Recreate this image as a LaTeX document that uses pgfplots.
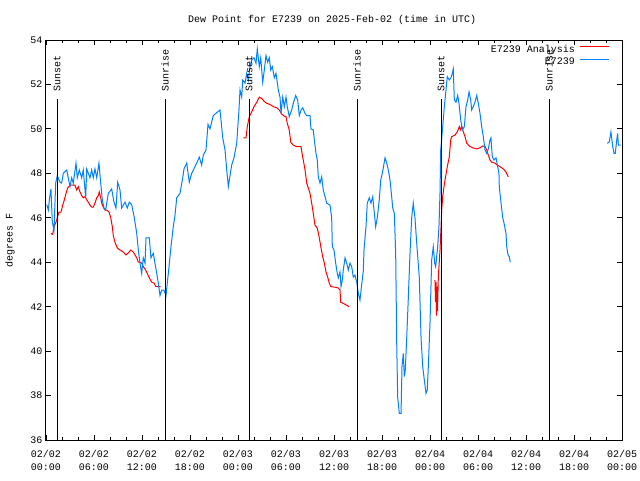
\documentclass[border=0pt]{standalone}
\usepackage{fontspec}
\setmainfont{Liberation Mono}
\usepackage{pgfplots}
\pgfplotsset{compat=1.18}

\definecolor{anared}{RGB}{255,0,0}
\definecolor{obsblue}{RGB}{0,128,255}

\begin{document}
\begin{tikzpicture}
\begin{axis}[
    name=dew,
    scale only axis, width=576pt, height=400pt,
    xmin=0, xmax=72, ymin=36, ymax=54,
    xtick={0,6,...,72},
    xticklabels={02/02\\00:00,02/02\\06:00,02/02\\12:00,02/02\\18:00,
                 02/03\\00:00,02/03\\06:00,02/03\\12:00,02/03\\18:00,
                 02/04\\00:00,02/04\\06:00,02/04\\12:00,02/04\\18:00,
                 02/05\\00:00},
    xticklabel style={align=center, font=\fontsize{10}{13}\selectfont, yshift=-7pt},
    minor x tick num=2,
    ytick={36,38,...,54},
    tick align=inside,
    major tick length=5pt, minor tick length=3pt,
    tick style={black, line width=0.8pt},
    axis line style={line width=1pt},
    /pgf/number format/assume math mode=true,
    ylabel={degrees F},
    ylabel style={at={(axis description cs:-0.0625,0.5)}, anchor=center},
    title={Dew Point for E7239 on 2025-Feb-02 (time in UTC)},
    title style={at={(axis description cs:0.497,1)}, anchor=center, yshift=14pt},
    unbounded coords=jump,
    legend style={at={(axis description cs:1,1)}, anchor=north east,
        xshift=-9pt, yshift=-2pt, draw=none, fill=none,
        nodes={inner sep=1pt}, row sep=2pt, column sep=4pt},
    legend cell align=right,
    legend plot pos=right,
    legend image code/.code={\draw[#1] (0pt,3pt) -- (29pt,3pt);},
]
% E7239 Analysis
\addplot[color=anared, line width=1pt] coordinates {
(0.62,45.3) (0.84,45.25) (1.0,45.6) (1.25,45.8) (1.41,46.0) (1.62,46.26) (1.88,46.26)
(2.09,46.57) (2.29,46.8) (2.5,47.1) (2.71,47.34) (3.0,47.47) (3.29,47.47) (3.62,47.47)
(3.84,47.25) (4.04,47.4) (4.25,47.16) (4.46,47.0) (4.66,46.9) (4.88,46.95) (5.09,46.8)
(5.29,46.7) (5.5,46.57) (5.71,46.48) (5.91,46.48) (6.12,46.66) (6.34,46.9) (6.54,47.0)
(6.66,47.16) (6.84,46.9) (6.96,46.66) (7.16,46.48) (7.38,46.35) (7.59,46.35) (7.88,46.26)
(8.09,46.0) (8.29,45.6) (8.41,45.2) (8.62,44.9) (8.91,44.64) (9.25,44.55) (9.66,44.46)
(10.0,44.33) (10.29,44.42) (10.59,44.55) (10.91,44.46) (11.12,44.33) (11.34,44.2)
(11.54,44.0) (11.75,44.0) (11.96,43.96) (12.16,43.8) (12.46,43.65) (12.66,43.5)
(12.91,43.3) (13.21,43.1) (13.5,43.06) (13.75,42.9) (14.04,42.9) (14.34,42.9)
(20,nan)
(24.66,49.6) (25.0,49.6) (25.16,50.1) (25.41,50.55) (25.71,50.76) (26.0,51.0) (26.34,51.2)
(26.66,51.43) (26.96,51.37) (27.25,51.25) (27.59,51.15) (28.0,51.1) (28.41,51.0)
(28.84,50.95) (29.16,50.85) (29.46,50.67) (29.75,50.58) (30.0,50.55) (30.16,50.25)
(30.41,49.95) (30.59,49.4) (30.91,49.27) (31.34,49.2) (31.88,49.2) (32.04,48.82)
(32.16,48.6) (32.38,48.15) (32.59,47.56) (32.79,47.34) (33.0,47.1) (33.21,46.66)
(33.41,46.2) (33.62,45.67) (33.91,45.54) (34.16,45.1) (34.38,44.64) (34.59,44.25)
(34.79,43.96) (35.0,43.56) (35.21,43.33) (35.41,43.06) (35.62,42.9) (36.12,42.88)
(36.54,42.84) (36.75,42.75) (36.84,42.2) (37.16,42.15) (37.59,42.06) (37.88,42.0)
(43,nan)
(48.62,43.2) (48.69,42.2) (48.75,43.1) (48.81,41.6) (48.88,42.9) (48.94,41.8) (49.04,43.33)
(49.25,44.55) (49.38,45.6) (49.46,46.35) (49.59,46.95) (49.75,47.4) (49.88,47.7)
(50.16,48.3) (50.41,48.73) (50.59,49.5) (50.71,49.65) (51.12,49.72) (51.41,49.87)
(51.66,50.1) (51.84,49.95) (51.96,50.13) (52.16,49.87) (52.38,49.65) (52.59,49.36)
(52.91,49.23) (53.34,49.15) (53.84,49.1) (54.25,49.15) (54.59,49.23) (54.88,49.2)
(55.09,49.05) (55.29,48.82) (55.5,48.6) (55.71,48.5) (56.12,48.46) (56.41,48.37)
(56.75,48.3) (57.16,48.2) (57.5,48.06) (57.66,47.93) (57.79,47.84)
};
\addlegendentry{E7239 Analysis}
% E7239 observations
\addplot[color=obsblue, line width=1pt] coordinates {
(0.1,46.6) (0.29,46.35) (0.45,46.9) (0.62,47.3) (0.79,45.8) (1.0,45.45) (1.21,47.56)
(1.41,47.9) (1.75,47.6) (1.96,47.56) (2.16,48.0) (2.59,48.15) (3.0,47.4) (3.21,47.8)
(3.41,47.56) (3.75,48.46) (3.91,47.8) (4.16,48.15) (4.46,47.8) (4.66,48.15) (4.96,46.9)
(5.09,48.2) (5.5,47.8) (5.71,48.15) (5.91,47.8) (6.12,48.2) (6.34,47.8) (6.62,48.46)
(6.84,47.56) (7.04,46.8) (7.25,46.44) (7.46,46.35) (7.79,47.1) (8.21,47.3) (8.5,46.7)
(8.75,46.44) (8.96,47.6) (9.25,47.25) (9.46,46.44) (9.88,46.7) (10.16,46.44)
(10.41,46.7) (10.71,46.6) (11.04,46.0) (11.34,45.3) (11.54,44.55) (11.75,43.96)
(11.96,43.5) (12.16,44.2) (12.38,43.96) (12.5,45.1) (12.91,45.1) (13.12,44.2)
(13.41,44.4) (13.62,43.96) (13.84,43.5) (14.04,43.06) (14.25,42.5) (14.46,42.75)
(14.75,42.75) (15.0,42.5) (15.16,43.06) (15.38,43.8) (15.62,44.7) (15.91,45.6)
(16.12,46.1) (16.34,46.9) (16.75,47.1) (17.09,47.8) (17.25,48.2) (17.59,48.46)
(17.91,47.6) (18.21,48.0) (18.62,48.3) (18.84,48.46) (19.16,48.73) (19.46,48.37)
(19.66,48.82) (20.0,49.05) (20.25,50.2) (20.5,50.0) (20.91,50.6) (21.75,50.85)
(22.09,49.6) (22.38,49.05) (22.59,48.15) (22.79,47.4) (23.0,47.9) (23.21,48.37)
(23.5,48.7) (23.84,49.36) (24.12,50.85) (24.25,51.75) (24.46,51.43) (24.59,52.2)
(24.88,52.06) (25.09,52.5) (25.29,52.2) (25.5,52.8) (25.71,53.1) (26.0,53.2)
(26.25,52.95) (26.41,53.6) (26.66,52.8) (26.84,53.2) (27.09,52.1) (27.29,52.65)
(27.5,53.3) (27.71,53.0) (27.91,53.2) (28.09,52.65) (28.29,52.8) (28.54,52.3)
(28.75,52.5) (29.04,51.75) (29.25,51.43) (29.38,50.7) (29.59,51.43) (29.79,51.0)
(30.0,51.43) (30.16,51.0) (30.41,50.55) (30.71,50.85) (30.91,51.15) (31.21,51.5)
(31.46,51.3) (31.66,50.6) (31.88,50.85) (32.09,50.95) (32.38,50.7) (32.59,50.6)
(33.0,50.6) (33.12,50.0) (33.41,49.95) (33.54,49.5) (33.75,48.9) (33.91,48.6)
(34.04,47.84) (34.25,47.56) (34.46,47.84) (34.66,47.25) (34.88,46.95) (35.09,46.66)
(35.5,46.57) (35.71,46.0) (35.79,44.7) (36.0,44.55) (36.21,43.96) (36.41,43.5)
(36.54,43.3) (36.75,43.56) (36.88,42.9) (37.04,43.2) (37.16,43.65) (37.38,44.2)
(37.59,43.96) (37.79,43.65) (38.0,43.96) (38.21,43.8) (38.41,43.33) (38.62,43.42)
(38.84,43.1) (39.04,42.6) (39.25,42.3) (39.46,43.0) (39.66,43.6) (39.75,44.55)
(40.0,45.6) (40.16,46.66) (40.41,46.9) (40.62,46.66) (40.84,46.95) (41.0,46.35)
(41.21,45.6) (41.41,46.0) (41.66,46.8) (41.84,47.7) (42.04,48.0) (42.38,48.7)
(42.59,48.46) (42.79,48.15) (43.0,47.7) (43.21,46.95) (43.34,46.44) (43.54,46.2)
(43.71,44.4) (43.84,40.36) (43.96,37.93) (44.16,37.2) (44.38,37.2) (44.5,39.3)
(44.66,39.9) (44.79,38.85) (44.91,39.15) (45.09,40.6) (45.29,42.4) (45.5,44.4)
(45.71,46.0) (45.91,46.66) (46.12,46.0) (46.34,44.85) (46.66,43.33) (46.88,40.6)
(47.09,39.3) (47.29,38.7) (47.5,38.1) (47.66,38.25) (47.79,39.3) (48.0,41.26)
(48.21,44.1) (48.41,44.7) (48.59,43.96) (48.71,43.8) (48.96,44.7) (49.12,45.6)
(49.25,47.1) (49.34,49.05) (49.59,50.1) (49.79,51.0) (50.0,51.75) (50.16,52.35)
(50.41,52.2) (50.62,52.3) (50.79,52.5) (50.91,52.7) (51.04,51.3) (51.25,51.2)
(51.46,51.5) (51.62,51.15) (51.84,50.4) (52.04,49.95) (52.29,50.1) (52.5,51.0)
(52.71,51.3) (52.88,51.66) (53.09,51.3) (53.21,50.85) (53.41,51.0) (53.62,51.2)
(53.84,51.5) (54.04,51.15) (54.25,50.7) (54.46,50.1) (54.66,49.65) (54.88,49.05)
(55.09,48.9) (55.29,49.1) (55.5,49.5) (55.62,49.6) (55.79,48.73) (56.0,48.6)
(56.25,48.7) (56.46,48.3) (56.62,48.0) (56.66,47.4) (56.88,46.66) (57.09,46.0)
(57.25,45.76) (57.5,45.3) (57.59,44.7) (57.75,44.33) (57.91,44.25) (58.04,44.0)
(64,nan)
(70.16,49.35) (70.41,49.42) (70.62,49.87) (70.84,49.2) (71.0,48.9) (71.16,48.9)
(71.34,49.5) (71.46,49.8) (71.54,49.27) (71.84,49.27)
};
\addlegendentry{E7239}
% sunset / sunrise markers
\addplot[black, line width=1pt, forget plot] coordinates {(1.38,36) (1.38,51.35)};
\addplot[black, line width=1pt, forget plot] coordinates {(14.88,36) (14.88,51.35)};
\addplot[black, line width=1pt, forget plot] coordinates {(25.38,36) (25.38,51.35)};
\addplot[black, line width=1pt, forget plot] coordinates {(38.88,36) (38.88,51.35)};
\addplot[black, line width=1pt, forget plot] coordinates {(49.38,36) (49.38,51.35)};
\addplot[black, line width=1pt, forget plot] coordinates {(62.88,36) (62.88,51.35)};
\node[rotate=90, anchor=west, inner sep=0pt] at (axis cs:1.38,51.66) {Sunset};
\node[rotate=90, anchor=west, inner sep=0pt] at (axis cs:14.88,51.66) {Sunrise};
\node[rotate=90, anchor=west, inner sep=0pt] at (axis cs:25.38,51.66) {Sunset};
\node[rotate=90, anchor=west, inner sep=0pt] at (axis cs:38.88,51.66) {Sunrise};
\node[rotate=90, anchor=west, inner sep=0pt] at (axis cs:49.38,51.66) {Sunset};
\node[rotate=90, anchor=west, inner sep=0pt] at (axis cs:62.88,51.66) {Sunrise};
\end{axis}
\pgfresetboundingbox
\path[use as bounding box] ([xshift=-46pt,yshift=-40pt]dew.south west)
    rectangle ([xshift=18pt,yshift=40pt]dew.north east);
\end{tikzpicture}
\end{document}
